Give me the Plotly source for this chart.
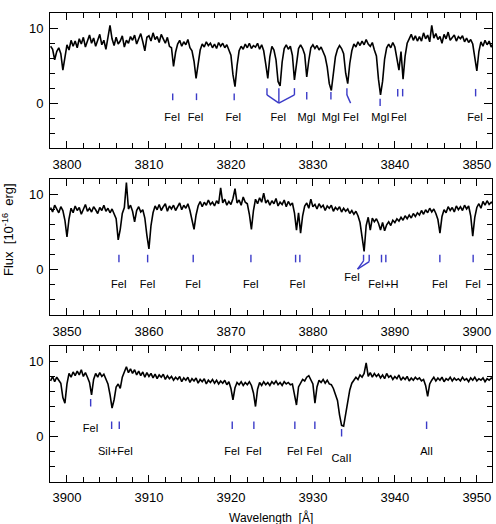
import numpy as np
import plotly.graph_objects as go

STEP = 0.25

# ---------------- Panel 1 (3798 - 3852 A) ----------------
p1_start = 3798.0
p1_flux = [
    7.6, 7.2, 5.8, 6.9, 7.4, 6.6, 4.4, 6.3, 7.8, 7.1, 8.4, 7.6, 8.3, 7.4, 8.6, 7.9, 8.8, 7.5, 8.2, 9.1,
    8.0, 8.7, 7.6, 8.5, 9.2, 7.8, 8.4, 7.2, 8.9, 10.4, 8.6, 7.7, 8.8, 7.9, 8.3, 9.0, 7.5, 8.4, 8.0, 8.9,
    8.4, 9.1, 7.9, 8.7, 9.3, 8.2, 7.0, 8.8, 9.0, 8.3, 9.4, 8.5, 8.9, 8.1, 9.2, 8.6, 8.0, 8.8, 7.6, 7.4,
    4.9, 6.8, 7.9, 8.4, 7.6, 8.2, 7.8, 8.5, 7.4, 7.0, 5.6, 3.3, 5.2, 7.1, 7.9, 7.5, 8.2, 7.7, 8.0, 7.4,
    7.9, 7.3, 8.1, 7.6, 8.0, 7.4, 7.8, 7.2, 6.4, 3.8, 2.2, 5.0, 7.0, 7.6, 7.2, 7.9, 7.4, 8.0, 7.3, 7.7,
    7.5, 8.0, 7.2, 7.8, 7.0, 5.2, 3.3, 6.2, 7.6, 7.1, 5.8, 2.9, 2.3, 5.5, 7.3, 7.8, 7.2, 7.6, 6.4, 3.1,
    5.6, 7.3, 7.8, 7.3, 6.5, 3.5, 5.7, 7.4, 7.8, 7.3, 7.7, 7.1, 7.5, 6.9, 6.2, 4.8, 2.6, 1.7, 3.6, 6.2,
    7.2, 7.7, 7.3, 6.6, 4.0, 2.6, 5.3, 7.0, 7.9, 7.5, 8.2, 7.7, 8.3, 7.8, 8.5, 7.9, 7.6, 8.1, 7.1, 6.3,
    3.2, 1.1, 2.9, 5.9, 7.4, 7.9, 7.4, 8.1, 7.5, 5.6, 4.4, 6.9, 3.2, 6.3, 8.0, 8.6, 9.2, 8.4, 9.0, 8.3,
    8.9, 8.3, 9.4, 8.6, 9.1, 8.2, 10.4, 8.7, 9.3, 8.5, 8.9, 8.0, 9.2, 8.6, 9.5, 8.4, 8.8, 9.1, 8.3, 8.9,
    8.6, 9.0, 8.2, 8.7, 8.1, 8.5, 7.9, 6.2, 4.3, 6.9, 8.2, 7.6, 8.4, 7.8, 8.3, 7.5, 8.0,
]
p1_tick_wl = [3812.9, 3815.8, 3820.4, 3824.4, 3825.85, 3827.75, 3829.25, 3832.2, 3834.15, 3838.2, 3840.35, 3840.95, 3849.85]
p1_tick_top = [1.3, 1.3, 1.3, 2.0, 2.0, 2.0, 1.5, 1.5, 2.0, 0.6, 1.9, 1.9, 1.9]
p1_tick_bot = [0.4, 0.4, 0.4, 1.1, 0.0, 1.1, 0.5, 0.5, 1.1, -0.4, 0.9, 0.9, 0.9]
p1_link_x0 = [3824.4, 3827.75, 3834.15]
p1_link_y0 = [1.1, 1.1, 1.1]
p1_link_x1 = [3825.85, 3825.85, 3834.6]
p1_link_y1 = [0.0, 0.0, 0.0]
p1_lab_text = ["FeI", "FeI", "FeI", "FeI", "MgI", "MgI", "FeI", "MgI", "FeI", "FeI"]
p1_lab_wl = [3812.85, 3815.7, 3820.3, 3825.8, 3829.25, 3832.2, 3834.65, 3838.25, 3840.5, 3849.8]
p1_lab_y = [-2.0, -2.0, -2.0, -2.0, -2.0, -2.0, -2.0, -2.0, -2.0, -2.0]

# ---------------- Panel 2 (3848 - 3902 A) ----------------
p2_start = 3848.0
p2_flux = [
    8.3, 7.7, 8.6, 8.0, 7.6, 8.4, 7.9, 6.6, 4.4, 6.8, 8.2, 7.6, 8.5, 7.9, 8.3, 7.4, 8.1, 8.7, 7.8, 8.2,
    7.7, 8.4, 8.0, 7.5, 8.3, 7.9, 8.6, 7.8, 8.2, 7.6, 8.1, 7.3, 6.8, 4.0, 5.4, 7.5, 8.3, 11.6, 8.1, 8.6,
    7.8, 6.4, 7.9, 8.4, 7.7, 8.0, 6.9, 4.6, 2.8, 5.9, 7.6, 8.5, 8.0, 8.7, 7.9, 8.4, 8.8, 7.8, 8.5, 8.1,
    8.6, 7.9, 8.4, 8.9, 8.0, 8.6, 8.2, 8.8, 7.9, 6.8, 5.4, 7.3, 8.5, 9.1, 8.4, 9.0, 8.6, 9.3, 8.7, 9.0,
    8.5, 9.2, 8.8, 10.9, 8.9, 9.4, 8.6, 9.1, 8.7, 9.5, 10.8, 8.9, 9.3, 8.6, 9.7, 9.0, 8.8, 7.4, 5.4, 7.9,
    9.4, 8.8, 9.6, 9.0, 10.2, 8.9, 9.3, 8.6, 9.2, 8.8, 9.5, 8.5, 9.0, 8.7, 9.3, 8.4, 9.1, 8.6, 8.9, 7.6,
    5.3, 7.6, 4.9, 7.2, 8.5, 8.9, 8.2, 9.4, 8.4, 8.7, 8.1, 8.8, 8.3, 8.6, 7.9, 8.5, 8.2, 8.6, 7.8, 8.3,
    8.0, 8.4, 7.7, 8.2, 7.8, 8.1, 7.5, 7.9, 7.4, 7.8, 7.2, 6.3, 4.5, 2.45, 5.9, 7.0, 5.3, 6.9, 6.4, 6.8,
    6.2, 5.3, 6.3, 5.2, 6.0, 6.4, 5.9, 6.6, 6.3, 6.8, 6.5, 7.0, 6.6, 7.2, 6.8, 7.3, 6.9, 7.5, 7.1, 7.6,
    7.3, 7.9, 7.4, 8.0, 7.6, 8.2, 7.7, 8.1, 7.5, 6.7, 4.9, 7.1, 8.0, 7.6, 8.4, 7.9, 8.3, 7.7, 8.5, 8.0,
    8.4, 7.9, 8.6, 8.1, 8.5, 7.2, 4.5, 7.0, 8.3, 8.8, 8.2, 9.1, 8.6, 9.2, 8.7, 9.0, 8.8,
]
p2_tick_wl = [3856.34, 3859.84, 3865.4, 3872.44, 3877.89, 3878.41, 3886.18, 3886.87, 3888.37, 3888.9, 3895.49, 3899.55]
p2_tick_top = [2.0, 2.0, 2.0, 2.0, 2.0, 2.0, 2.0, 2.0, 2.0, 2.0, 2.0, 2.0]
p2_tick_bot = [1.0, 1.0, 1.0, 1.0, 1.0, 1.0, 1.2, 1.1, 1.0, 1.0, 1.0, 1.0]
p2_link_x0 = [3886.18, 3886.87]
p2_link_y0 = [1.2, 1.1]
p2_link_x1 = [3885.45, 3885.45]
p2_link_y1 = [0.1, 0.1]
p2_lab_text = ["FeI", "FeI", "FeI", "FeI", "FeI", "FeI", "FeI+H", "FeI", "FeI"]
p2_lab_wl = [3856.34, 3859.84, 3865.4, 3872.44, 3878.13, 3884.8, 3888.6, 3895.49, 3899.55]
p2_lab_y = [-2.1, -2.1, -2.1, -2.1, -2.1, -1.1, -2.1, -2.1, -2.1]

# ---------------- Panel 3 (3898 - 3952 A) ----------------
p3_start = 3898.0
p3_flux = [
    7.4, 8.0, 7.3, 7.9, 7.5, 7.1, 5.2, 4.45, 7.0, 8.4, 7.9, 8.6, 8.1, 8.7, 8.2, 8.9, 8.0, 8.5, 7.9, 7.2,
    5.55, 7.6, 8.4, 7.9, 8.5, 8.0, 8.3, 7.7, 7.0, 5.6, 3.8, 4.9, 6.6, 7.0, 6.4, 7.9, 8.6, 9.3, 8.5, 9.0,
    8.4, 8.9, 8.2, 8.7, 8.1, 8.6, 7.9, 8.5, 8.0, 8.4, 7.8, 8.3, 7.7, 8.2, 7.9, 8.3, 7.6, 8.1, 7.7, 8.0,
    7.5, 7.9, 7.6, 8.0, 7.3, 7.8, 7.5, 7.9, 7.2, 7.7, 7.4, 7.8, 7.1, 7.6, 7.3, 7.7, 7.0, 7.5, 7.2, 7.6,
    7.1, 7.5, 7.0, 7.4, 7.1, 7.5, 6.9, 7.3, 6.4, 4.9, 6.5, 7.2, 6.9, 7.3, 6.8, 7.2, 6.9, 7.3, 6.8, 5.8,
    4.0, 6.3, 7.2, 6.8, 7.3, 6.9, 7.2, 6.8, 7.3, 7.0, 7.4, 6.9, 7.2, 6.8, 7.3, 7.0, 7.2, 6.9, 7.0, 5.6,
    4.2, 6.6, 7.2, 7.6, 7.4, 7.9, 8.1, 7.6, 7.0, 4.45, 6.6, 7.5, 7.2, 7.6, 7.1, 7.5, 7.0, 6.9, 6.4, 5.6,
    4.8, 2.9, 1.5, 1.4, 3.2, 4.8, 6.2, 7.1, 7.5, 7.9, 7.6, 8.2, 7.9, 8.4, 9.8, 8.0, 8.5, 7.9, 8.4, 8.0,
    8.3, 7.8, 8.2, 7.7, 8.4, 7.9, 8.1, 7.6, 8.0, 7.7, 8.2, 7.5, 7.9, 7.6, 8.0, 7.4, 7.8, 7.5, 7.9, 7.6,
    7.8, 7.4, 7.6, 6.8, 5.35, 7.0, 7.5, 7.9, 7.4, 7.8, 7.5, 7.9, 7.3, 7.7, 7.5, 7.9, 7.4, 7.8, 7.5, 7.7,
    7.4, 7.9, 7.5, 7.7, 7.3, 7.8, 7.5, 7.9, 7.4, 7.7, 7.5, 7.8, 7.3, 7.7, 7.5, 7.8, 7.6,
]
p3_tick_wl = [3902.89, 3905.45, 3906.38, 3920.16, 3922.8, 3927.8, 3930.24, 3933.5, 3943.87]
p3_tick_top = [5.0, 2.0, 2.0, 2.0, 2.0, 2.0, 2.0, 1.0, 2.0]
p3_tick_bot = [4.0, 1.0, 1.0, 1.0, 1.0, 1.0, 1.0, 0.0, 1.0]
p3_link_x0 = []
p3_link_y0 = []
p3_link_x1 = []
p3_link_y1 = []
p3_lab_text = ["FeI", "SiI+FeI", "FeI", "FeI", "FeI", "FeI", "CaII", "AlI"]
p3_lab_wl = [3902.89, 3905.93, 3920.16, 3922.8, 3927.8, 3930.2, 3933.5, 3943.87]
p3_lab_y = [1.0, -2.1, -2.1, -2.1, -2.1, -2.1, -3.0, -2.1]

# axis limits
x_ranges = [[3797.93, 3851.85], [3847.93, 3901.85], [3897.93, 3951.85]]
x_tick0 = [3800, 3850, 3900]
y_range = [-6.0, 12.05]

# layout geometry (paper fractions)
X_DOM = [50 / 496, 492 / 496]
Y_DOMS = [[1 - 148 / 524, 1 - 13 / 524],
          [1 - 315 / 524, 1 - 179.3 / 524],
          [1 - 481.7 / 524, 1 - 346 / 524]]

FONT = "Liberation Sans"
BLUE = "#3b3bc8"

panels = [
    (p1_start, p1_flux, p1_tick_wl, p1_tick_top, p1_tick_bot,
     p1_link_x0, p1_link_y0, p1_link_x1, p1_link_y1, p1_lab_text, p1_lab_wl, p1_lab_y),
    (p2_start, p2_flux, p2_tick_wl, p2_tick_top, p2_tick_bot,
     p2_link_x0, p2_link_y0, p2_link_x1, p2_link_y1, p2_lab_text, p2_lab_wl, p2_lab_y),
    (p3_start, p3_flux, p3_tick_wl, p3_tick_top, p3_tick_bot,
     p3_link_x0, p3_link_y0, p3_link_x1, p3_link_y1, p3_lab_text, p3_lab_wl, p3_lab_y),
]

fig = go.Figure()
layout_axes = {}
for i, (start, flux, twl, ttop, tbot, lx0, ly0, lx1, ly1, ltxt, lwl, ly) in enumerate(panels):
    sfx = "" if i == 0 else str(i + 1)
    xa, ya = "x" + sfx, "y" + sfx
    wl = start + STEP * np.arange(len(flux))
    fig.add_trace(go.Scatter(x=wl, y=flux, mode="lines", xaxis=xa, yaxis=ya,
                             line=dict(color="black", width=1.6), hoverinfo="skip"))
    # identification ticks
    tx, ty = [], []
    for w, t, b in zip(twl, ttop, tbot):
        tx += [w, w, None]
        ty += [t, b, None]
    for a, b_, c, d in zip(lx0, ly0, lx1, ly1):
        tx += [a, c, None]
        ty += [b_, d, None]
    fig.add_trace(go.Scatter(x=tx, y=ty, mode="lines", xaxis=xa, yaxis=ya,
                             line=dict(color=BLUE, width=1.4), hoverinfo="skip"))
    fig.add_trace(go.Scatter(x=lwl, y=ly, text=ltxt, mode="text", xaxis=xa, yaxis=ya,
                             textposition="middle center",
                             textfont=dict(family=FONT, size=11, color="black"),
                             hoverinfo="skip"))
    layout_axes["xaxis" + sfx] = dict(
        domain=X_DOM, anchor=ya, range=x_ranges[i],
        showline=True, linecolor="black", linewidth=1, mirror="ticks",
        ticks="inside", ticklen=7, tickcolor="black", tickwidth=1,
        tick0=x_tick0[i], dtick=10,
        minor=dict(dtick=2, tick0=x_tick0[i], ticks="inside", ticklen=5, tickcolor="black", tickwidth=1),
        showgrid=False, zeroline=False,
        tickfont=dict(family=FONT, size=13, color="black"),
        ticklabelstandoff=4,
    )
    layout_axes["yaxis" + sfx] = dict(
        domain=Y_DOMS[i], anchor=xa, range=y_range,
        showline=True, linecolor="black", linewidth=1, mirror="ticks",
        ticks="inside", ticklen=8, tickcolor="black", tickwidth=1,
        tick0=0, dtick=10,
        minor=dict(dtick=2, tick0=0, ticks="inside", ticklen=5, tickcolor="black", tickwidth=1),
        showgrid=False, zeroline=False,
        tickfont=dict(family=FONT, size=13, color="black"),
        ticklabelstandoff=3,
    )

fig.update_layout(
    width=496, height=524,
    margin=dict(l=0, r=0, t=0, b=0),
    paper_bgcolor="white", plot_bgcolor="white",
    showlegend=False,
    **layout_axes,
    annotations=[
        dict(text="Wavelength  [Å]", x=271 / 496, y=1 - 517 / 524, xref="paper", yref="paper",
             showarrow=False, xanchor="center", yanchor="middle",
             font=dict(family=FONT, size=12, color="black")),
        dict(text="Flux  [10<sup>-16</sup>  erg]", x=8 / 496, y=1 - 230 / 524, xref="paper", yref="paper",
             showarrow=False, xanchor="center", yanchor="middle", textangle=-90,
             font=dict(family=FONT, size=13, color="black")),
    ],
)

fig.write_html("out.html")
